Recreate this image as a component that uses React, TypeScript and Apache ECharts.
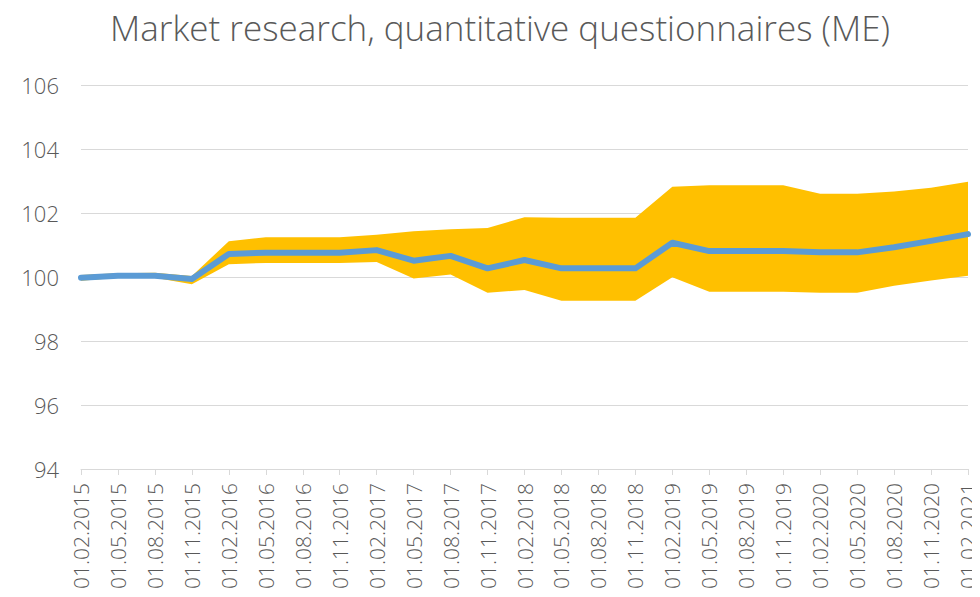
import React, { useEffect, useRef } from "react";
import * as echarts from "echarts";

const categories = [
  "01.02.2015", "01.05.2015", "01.08.2015", "01.11.2015",
  "01.02.2016", "01.05.2016", "01.08.2016", "01.11.2016",
  "01.02.2017", "01.05.2017", "01.08.2017", "01.11.2017",
  "01.02.2018", "01.05.2018", "01.08.2018", "01.11.2018",
  "01.02.2019", "01.05.2019", "01.08.2019", "01.11.2019",
  "01.02.2020", "01.05.2020", "01.08.2020", "01.11.2020",
  "01.02.2021",
];

const mainValues = [
  99.98, 100.04, 100.04, 99.94,
  100.72, 100.76, 100.76, 100.76,
  100.84, 100.51, 100.66, 100.27,
  100.53, 100.27, 100.27, 100.27,
  101.07, 100.81, 100.81, 100.81,
  100.77, 100.77, 100.93, 101.13,
  101.34,
];

const upperValues = [
  100.06, 100.12, 100.13, 100.03,
  101.12, 101.24, 101.24, 101.24,
  101.32, 101.43, 101.49, 101.53,
  101.87, 101.85, 101.85, 101.85,
  102.82, 102.87, 102.87, 102.87,
  102.6, 102.6, 102.67, 102.79,
  102.98,
];

const lowerValues = [
  99.88, 99.98, 99.98, 99.77,
  100.4, 100.44, 100.44, 100.44,
  100.47, 99.95, 100.08, 99.51,
  99.59, 99.26, 99.26, 99.26,
  99.99, 99.54, 99.54, 99.54,
  99.51, 99.51, 99.73, 99.89,
  100.04,
];

const yTicks = { min: 94, max: 106, interval: 2 };

const FONT = "'Open Sans', 'Liberation Sans', sans-serif";

export default function App() {
  const ref = useRef<HTMLDivElement>(null);

  useEffect(() => {
    if (!ref.current) return;
    const chart = echarts.init(ref.current, undefined, { renderer: "svg" });
    const bandWidth = upperValues.map((u, i) => +(u - lowerValues[i]).toFixed(3));
    chart.setOption({
      animation: false,
      backgroundColor: "#ffffff",
      title: {
        text: "Market research, quantitative questionnaires (ME)",
        left: 105,
        top: 5,
        textStyle: {
          fontFamily: FONT,
          fontWeight: 300,
          fontSize: 35,
          color: "#595959",
        },
      },
      grid: { left: 81, right: 12, top: 85, bottom: 128 },
      xAxis: {
        type: "category",
        data: categories,
        boundaryGap: false,
        axisLine: { lineStyle: { color: "#d9d9d9", width: 1 } },
        axisTick: { show: true, length: 6, lineStyle: { color: "#d9d9d9" }, interval: 0 },
        axisLabel: {
          rotate: 90,
          interval: 0,
          margin: 14,
          fontFamily: FONT,
          fontWeight: 300,
          fontSize: 21,
          color: "#595959",
        },
      },
      yAxis: {
        type: "value",
        min: yTicks.min,
        max: yTicks.max,
        interval: yTicks.interval,
        axisLine: { show: false },
        axisTick: { show: false },
        splitLine: { lineStyle: { color: "#d9d9d9", width: 1 } },
        axisLabel: {
          margin: 22,
          fontFamily: FONT,
          fontWeight: 300,
          fontSize: 22,
          color: "#595959",
        },
      },
      series: [
        {
          type: "line",
          data: lowerValues,
          stack: "band",
          symbol: "none",
          lineStyle: { opacity: 0 },
          silent: true,
        },
        {
          type: "line",
          data: bandWidth,
          stack: "band",
          symbol: "none",
          lineStyle: { opacity: 0 },
          areaStyle: { color: "#FFC000", opacity: 1 },
          silent: true,
        },
        {
          type: "line",
          data: mainValues,
          symbol: "none",
          lineStyle: { color: "#5B9BD5", width: 6, cap: "round", join: "round" },
        },
      ],
    });
    return () => chart.dispose();
  }, []);

  return <div ref={ref} style={{ width: 980, height: 597, margin: -8 }} />;
}
